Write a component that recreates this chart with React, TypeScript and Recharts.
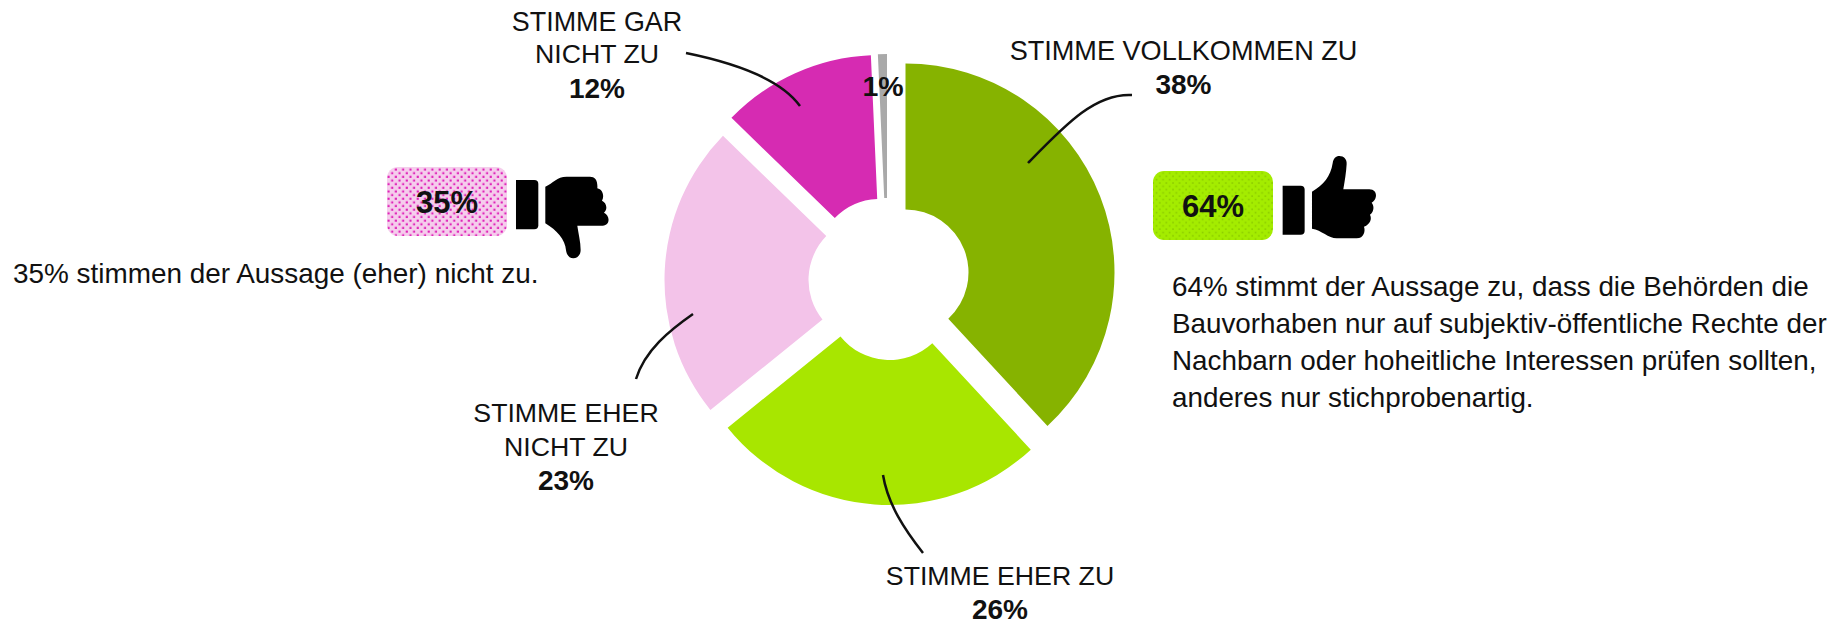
import React from "react";
import { PieChart, Pie, Cell } from "recharts";

const labels = ["STIMME VOLLKOMMEN ZU", "STIMME EHER ZU", "STIMME EHER NICHT ZU", "STIMME GAR NICHT ZU", "KEINE ANGABE"];
const values = [38, 26, 23, 12, 1];
const colors = ["#86b300", "#a8e600", "#f3c3e9", "#d62bb2", "#a9a9a9"];
const sliceCentres = [
  [905.5, 272.5, 209],
  [889.5, 297, 208],
  [871.5, 280, 207],
  [880, 262, 207],
  [887, 261, 207],
];
const greyDrawnValue = 0.7;

const rightText = [
  "64% stimmt der Aussage zu, dass die Behörden die",
  "Bauvorhaben nur auf subjektiv-öffentliche Rechte der",
  "Nachbarn oder hoheitliche Interessen prüfen sollten,",
  "anderes nur stichprobenartig.",
];
const rightBaselines = [296, 333, 370, 407];
const leftText = "35% stimmen der Aussage (eher) nicht zu.";

const FONT = "'Liberation Sans', Arial, sans-serif";

const data = labels.map((name, i) => ({ name, value: i === 4 ? greyDrawnValue : values[i] }));

function T({ x, y, children, bold, size = 26.7, anchor = "middle" }: any) {
  return (
    <text x={x} y={y} fontFamily={FONT} fontSize={size} fontWeight={bold ? 700 : 400} textAnchor={anchor} fill="#111">
      {children}
    </text>
  );
}

function ThumbUp({ x, y }: any) {
  return (
    <g transform={`translate(${x} ${y}) scale(0.3333)`} fill="#000">
      <path d="M428 137 H482 Q494 137 494 149 V272 Q494 284 482 284 H428 Z" />
      <path d="M516 155 C550 135 572 110 578 70 C580 55 588 48 598 48 C612 48 621 58 620 72 C619 95 614 125 610 148 H688 C702 148 709 158 708 168 C707 178 702 184 695 188 C703 197 703 214 690 224 C696 236 692 252 672 260 C677 272 672 295 650 295 H590 C565 295 545 270 516 266 Z" />
    </g>
  );
}

function ThumbDown({ x, y }: any) {
  return (
    <g transform={`translate(${x} ${y}) scale(0.3333)`} fill="#000">
      <path d="M438 120 H493 Q505 120 505 132 V256 Q505 268 493 268 H438 Z" />
      <path d="M526 140 C550 130 560 110 590 110 H660 C675 110 684 120 682 145 C698 148 704 168 696 182 C710 188 714 208 702 218 C720 225 722 257 698 257 H622 C625 280 632 305 632 330 C632 345 622 355 610 355 C598 355 590 345 588 330 C586 300 560 270 526 250 Z" />
    </g>
  );
}

export default function App() {
  return (
    <div style={{ position: "absolute", left: 0, top: 0, width: 1837, height: 623, overflow: "hidden", background: "#fff" }}>
      <div style={{ position: "absolute", left: 0, top: 0 }}>
        <PieChart width={1837} height={623} margin={{ top: 0, right: 0, bottom: 0, left: 0 }}>
          {sliceCentres.map(([cx, cy, r], i) => (
            <Pie
              key={labels[i]}
              data={data}
              dataKey="value"
              nameKey="name"
              cx={cx}
              cy={cy}
              innerRadius={63}
              outerRadius={r}
              startAngle={90}
              endAngle={-270}
              stroke="none"
              isAnimationActive={false}
              legendType="none"
            >
              {data.map((_, j) => (
                <Cell key={j} fill={j === i ? colors[i] : "none"} stroke="none" />
              ))}
            </Pie>
          ))}
        </PieChart>
      </div>
      <svg width={1837} height={623} style={{ position: "absolute", left: 0, top: 0 }}>
        <defs>
          <pattern id="dotsGreen" width="6.6" height="6.6" patternUnits="userSpaceOnUse">
            <rect width="6.6" height="6.6" fill="#a4ec00" />
            <rect x="0.7" y="0.7" width="1.6" height="1.6" fill="#8ccc00" />
            <rect x="4" y="4" width="1.6" height="1.6" fill="#8ccc00" />
          </pattern>
          <pattern id="dotsPink" width="7.3" height="7.3" patternUnits="userSpaceOnUse">
            <rect width="7.3" height="7.3" fill="#f5cdec" />
            <rect x="0.6" y="0.6" width="2.1" height="2.1" fill="#e01fb8" />
            <rect x="4.25" y="4.25" width="2.1" height="2.1" fill="#e01fb8" />
          </pattern>
        </defs>
        {/* leader lines */}
        <path d="M1132 95 C1095 93 1065 125 1028 163" fill="none" stroke="#111" strokeWidth={2.5} />
        <path d="M883 475 C888 505 905 530 923 553" fill="none" stroke="#111" strokeWidth={2.5} />
        <path d="M686 53 C730 62 780 78 800 106" fill="none" stroke="#111" strokeWidth={2.5} />
        <path d="M636 379 C645 350 670 330 693 314" fill="none" stroke="#111" strokeWidth={2.5} />

        <rect x={387} y={167} width={120} height={69} rx={11} fill="url(#dotsPink)" />
        <rect x={1153} y={171} width={120} height={69} rx={11} fill="url(#dotsGreen)" />
        <T x={447} y={213} bold size={31}>35%</T>
        <T x={1213} y={217} bold size={31}>64%</T>
        <ThumbDown x={370} y={140} />
        <ThumbUp x={1140} y={140} />

        <T x={597} y={31} size={26.9}>STIMME GAR</T>
        <T x={597} y={63}>NICHT ZU</T>
        <T x={597} y={98} bold size={28}>12%</T>
        <T x={883} y={96} bold size={28.5}>1%</T>
        <T x={1183.5} y={60} size={27.1}>STIMME VOLLKOMMEN ZU</T>
        <T x={1183.5} y={94} bold size={28}>38%</T>
        <T x={566} y={422}>STIMME EHER</T>
        <T x={566} y={456}>NICHT ZU</T>
        <T x={566} y={490} bold size={28}>23%</T>
        <T x={1000} y={585}>STIMME EHER ZU</T>
        <T x={1000} y={619} bold size={28}>26%</T>

        <T x={13} y={283} anchor="start" size={27.9}>{leftText}</T>
        {rightText.map((line, i) => (
          <T key={i} x={1172} y={rightBaselines[i]} anchor="start" size={27.8}>{line}</T>
        ))}
      </svg>
    </div>
  );
}
